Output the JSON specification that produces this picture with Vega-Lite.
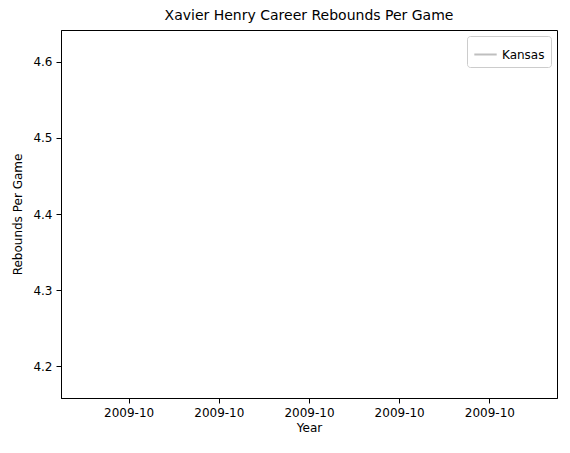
{
"$schema":"https://vega.github.io/schema/vega-lite/v6.json",
"autosize":"none","width":496,"height":368,
"padding":{"left":61,"top":30,"right":13,"bottom":55},
"title":{"text":"Xavier Henry Career Rebounds Per Game","font":"DejaVu Sans","fontSize":14,"fontWeight":"normal","offset":7},
"data":{"values":[{"season":"2009-10","x":0,"rpg":4.4,"team":"Kansas"}]},
"mark":{"type":"line","strokeWidth":2,"point":false},
"encoding":{
"x":{"field":"x","type":"quantitative","title":"Year","scale":{"domain":[-0.055,0.055],"nice":false,"zero":false},
"axis":{"values":[-0.04,-0.02,0,0.02,0.04],"labelExpr":"'2009-10'","grid":false,"titleFont":"DejaVu Sans","labelFont":"DejaVu Sans","titleFontSize":12,"labelFontSize":12,"titleFontWeight":"normal","labelColor":"black","titleColor":"black","domainColor":"black","tickColor":"black","labelPadding":4,"titlePadding":4}},
"y":{"field":"rpg","type":"quantitative","title":"Rebounds Per Game","scale":{"domain":[4.158,4.642],"nice":false,"zero":false},
"axis":{"values":[4.2,4.3,4.4,4.5,4.6],"format":".1f","grid":false,"titleFont":"DejaVu Sans","labelFont":"DejaVu Sans","titleFontSize":12,"labelFontSize":12,"titleFontWeight":"normal","labelColor":"black","titleColor":"black","domainColor":"black","tickColor":"black","labelPadding":4,"titlePadding":8}},
"color":{"field":"team","type":"nominal","scale":{"range":["#bfbfbf"]},
"legend":{"title":null,"orient":"top-right","symbolType":"stroke","symbolStrokeWidth":2,"symbolSize":500,"labelFont":"DejaVu Sans","labelFontSize":12,"labelColor":"black","strokeColor":"#cccccc","padding":6,"cornerRadius":3,"fillColor":"white","offset":6}}
},
"config":{"view":{"stroke":"black"}}
}
